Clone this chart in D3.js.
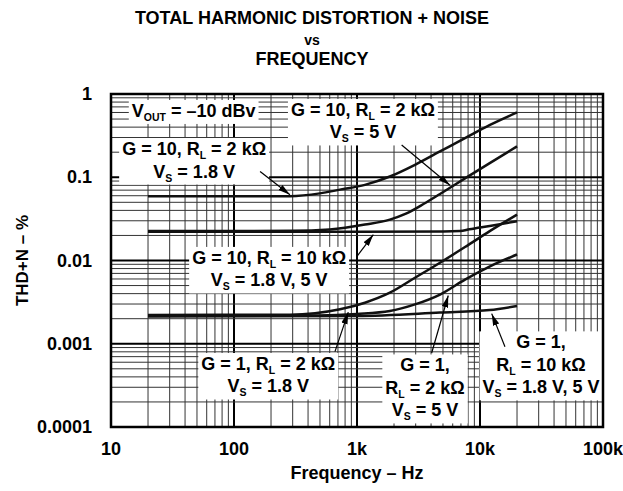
<!DOCTYPE html>
<html>
<head>
<meta charset="utf-8">
<script src="https://cdn.jsdelivr.net/npm/d3@7"></script>
<style>
  body { margin: 0; background: #fff; }
  svg text { font-family: "Liberation Sans", Arial, Helvetica, sans-serif; font-weight: bold; fill: #000; }
</style>
</head>
<body>
<div id="chart"></div>
<script>
const width = 623;
const height = 491;

// axis ticks
const freqTicks = [10, 100, 1000, 10000, 100000];
const freqTickLabels = ["10", "100", "1k", "10k", "100k"];
const thdTicks = [1, 0.1, 0.01, 0.001, 0.0001];
const thdTickLabels = ["1", "0.1", "0.01", "0.001", "0.0001"];

// G = 10, RL = 2k, Vs = 1.8 V
const freqG10R2kV18 = [20, 100, 285, 500, 728, 1160, 1850, 2960, 4730, 7550, 12060, 20000];
const thdG10R2kV18 = [0.059, 0.059, 0.0592, 0.064, 0.071, 0.081, 0.102, 0.141, 0.204, 0.295, 0.425, 0.6];
// G = 10, RL = 2k, Vs = 5 V
const freqG10R2kV5 = [20, 300, 600, 1160, 1850, 2500, 3500, 4730, 7550, 12000, 20000];
const thdG10R2kV5 = [0.0226, 0.0227, 0.0236, 0.027, 0.031, 0.0365, 0.048, 0.063, 0.097, 0.148, 0.235];
// G = 10, RL = 10k, Vs = 1.8 V, 5 V
const freqG10R10k = [20, 1000, 5000, 6900, 8200, 12000, 20000];
const thdG10R10k = [0.0222, 0.0222, 0.0223, 0.0226, 0.0237, 0.026, 0.0296];
// G = 1, RL = 2k, Vs = 1.8 V
const freqG1R2kV18 = [20, 285, 728, 1160, 1850, 2960, 4730, 7550, 12000, 20000];
const thdG1R2kV18 = [0.00222, 0.00223, 0.00259, 0.00311, 0.0041, 0.0062, 0.0094, 0.0145, 0.0225, 0.0356];
// G = 1, RL = 2k, Vs = 5 V
const freqG1R2kV5 = [20, 500, 1000, 1850, 2960, 4730, 7550, 12060, 20000];
const thdG1R2kV5 = [0.00218, 0.00219, 0.00228, 0.00247, 0.00297, 0.0039, 0.0059, 0.0085, 0.0118];
// G = 1, RL = 10k, Vs = 1.8 V, 5 V
const freqG1R10k = [20, 1000, 4730, 12000, 20000];
const thdG1R10k = [0.00213, 0.00216, 0.00237, 0.00254, 0.00284];

const seriesList = [
    { f: freqG10R2kV18, v: thdG10R2kV18 },
    { f: freqG10R2kV5, v: thdG10R2kV5 },
    { f: freqG10R10k, v: thdG10R10k },
    { f: freqG1R2kV18, v: thdG1R2kV18 },
    { f: freqG1R2kV5, v: thdG1R2kV5 },
    { f: freqG1R10k, v: thdG1R10k }
];

// annotations: text lines (_{..} = subscript), anchor in data units, arrow from/to in data units
const notes = [
    { lines: ["V_{OUT} = \u201310 dBv"], f: 47, v: 0.53 },
    { lines: ["G = 10, R_{L} = 2 k\u03A9", "V_{S} = 5 V"], f: 1117, v: 0.545,
      arrow: [[2307, 0.244], [5700, 0.08]] },
    { lines: ["G = 10, R_{L} = 2 k\u03A9", "V_{S} = 1.8 V"], f: 47.4, v: 0.185,
      arrow: [[163, 0.117], [285, 0.0615]] },
    { lines: ["G = 10, R_{L} = 10 k\u03A9", "V_{S} = 1.8 V, 5 V"], f: 193, v: 0.0091,
      arrow: [[995, 0.0111], [1358, 0.0205]] },
    { lines: ["G = 1, R_{L} = 2 k\u03A9", "V_{S} = 1.8 V"], f: 190, v: 0.000484,
      arrow: [[662, 0.000803], [849, 0.0024]] },
    { lines: ["G = 1,", "R_{L} = 2 k\u03A9", "V_{S} = 5 V"], f: 3573, v: 0.000465,
      arrow: [[4045, 0.000774], [5520, 0.0038]] },
    { lines: ["G = 1,", "R_{L} = 10 k\u03A9", "V_{S} = 1.8 V, 5 V"], f: 31300, v: 0.00088,
      arrow: [[15960, 0.000922], [12450, 0.0023]] }
];

document.addEventListener('DOMContentLoaded', () => {
    createChart();
});

function createChart(){
    const margin = { top: 94, right: 20, bottom: 64, left: 111 };
    const svg = d3.select('#chart')
        .append('svg')
        .attr('width', width)
        .attr('height', height);

    const usableArea = {
        top: margin.top,
        right: width - margin.right,
        bottom: height - margin.bottom,
        left: margin.left
    };

    const xScale = d3.scaleLog()
        .domain([10, 100000])
        .range([usableArea.left, usableArea.right]);
    const yScale = d3.scaleLog()
        .domain([0.0001, 1])
        .range([usableArea.bottom, usableArea.top]);

    // title
    const title = ["TOTAL HARMONIC DISTORTION + NOISE", "vs", "FREQUENCY"];
    svg.append('g').selectAll('text')
        .data(title)
        .join('text')
        .attr('x', 312)
        .attr('y', (d, i) => 24 + i * 20.5)
        .attr('text-anchor', 'middle')
        .style('font-size', (d, i) => i === 1 ? '14px' : '18px')
        .text(d => d);

    // grid
    const grid = svg.append('g');
    const isMajor = d => Math.abs(Math.log10(d) - Math.round(Math.log10(d))) < 1e-6;
    grid.selectAll('line.vx')
        .data(xScale.ticks())
        .join('line')
        .attr('x1', d => xScale(d)).attr('x2', d => xScale(d))
        .attr('y1', usableArea.top).attr('y2', usableArea.bottom)
        .style('stroke', d => isMajor(d) ? '#000' : '#333')
        .style('stroke-width', d => isMajor(d) ? 2 : 1);
    grid.selectAll('line.hy')
        .data(yScale.ticks())
        .join('line')
        .attr('y1', d => yScale(d)).attr('y2', d => yScale(d))
        .attr('x1', usableArea.left).attr('x2', usableArea.right)
        .style('stroke', d => isMajor(d) ? '#000' : '#333')
        .style('stroke-width', d => isMajor(d) ? 2 : 1);

    // label boxes (white, hiding grid) with text on top
    const noteG = svg.append('g');
    const lineGap = 22.5;
    const noteGroups = noteG.selectAll('g')
        .data(notes)
        .join('g');
    noteGroups.append('rect').style('fill', '#fff');
    noteGroups.each(function(d){
        const g = d3.select(this);
        const t = g.append('text')
            .attr('text-anchor', 'middle')
            .style('font-size', '18px');
        d.lines.forEach((ln, i) => {
            const line = t.append('tspan')
                .attr('x', xScale(d.f))
                .attr('y', yScale(d.v) + i * lineGap);
            const parts = ln.split(/(_\{[^}]*\})/).filter(p => p);
            let shifted = false;
            parts.forEach(p => {
                if (p.startsWith('_{')) {
                    line.append('tspan')
                        .attr('dy', 4)
                        .style('font-size', '10.5px')
                        .text(p.slice(2, -1));
                    shifted = true;
                } else {
                    const s = line.append('tspan').text(p);
                    if (shifted) { s.attr('dy', -4); shifted = false; }
                }
            });
        });
        const bb = t.node().getBBox();
        g.select('rect')
            .attr('x', bb.x - 3)
            .attr('y', bb.y - 1)
            .attr('width', bb.width + 6)
            .attr('height', bb.height + 2);
    });

    // curves
    const line = d3.line()
        .x(d => xScale(d[0]))
        .y(d => yScale(d[1]))
        .curve(d3.curveMonotoneX);
    svg.append('g').selectAll('path')
        .data(seriesList)
        .join('path')
        .attr('d', s => line(s.f.map((f, i) => [f, s.v[i]])))
        .style('fill', 'none')
        .style('stroke', '#111')
        .style('stroke-width', 2.5);

    // arrows
    svg.append('defs').append('marker')
        .attr('id', 'head')
        .attr('viewBox', '0 0 12 10')
        .attr('refX', 12).attr('refY', 5)
        .attr('markerWidth', 12).attr('markerHeight', 10)
        .attr('markerUnits', 'userSpaceOnUse')
        .attr('orient', 'auto')
        .append('path')
        .attr('d', 'M0,1.8 L12,5 L0,8.2 Z')
        .style('fill', '#000');
    svg.append('g').selectAll('line')
        .data(notes.filter(d => d.arrow))
        .join('line')
        .attr('x1', d => xScale(d.arrow[0][0]))
        .attr('y1', d => yScale(d.arrow[0][1]))
        .attr('x2', d => xScale(d.arrow[1][0]))
        .attr('y2', d => yScale(d.arrow[1][1]))
        .style('stroke', '#000')
        .style('stroke-width', 1.2)
        .attr('marker-end', 'url(#head)');

    // frame
    svg.append('rect')
        .attr('x', usableArea.left)
        .attr('y', usableArea.top)
        .attr('width', usableArea.right - usableArea.left)
        .attr('height', usableArea.bottom - usableArea.top)
        .style('fill', 'none')
        .style('stroke', '#000')
        .style('stroke-width', 2.5);

    // tick labels
    svg.append('g').selectAll('text')
        .data(freqTicks)
        .join('text')
        .attr('x', d => xScale(d))
        .attr('y', usableArea.bottom + 28)
        .attr('text-anchor', 'middle')
        .style('font-size', '18px')
        .text((d, i) => freqTickLabels[i]);
    svg.append('g').selectAll('text')
        .data(thdTicks)
        .join('text')
        .attr('x', usableArea.left - 19)
        .attr('y', d => yScale(d) + 6)
        .attr('text-anchor', 'end')
        .style('font-size', '18px')
        .text((d, i) => thdTickLabels[i]);

    // axis titles
    svg.append('text')
        .attr('x', (usableArea.left + usableArea.right) / 2)
        .attr('y', height - 12)
        .attr('text-anchor', 'middle')
        .style('font-size', '18px')
        .text('Frequency \u2013 Hz');
    svg.append('text')
        .attr('transform', 'rotate(-90)')
        .attr('x', -(usableArea.top + usableArea.bottom) / 2)
        .attr('y', 28)
        .attr('text-anchor', 'middle')
        .style('font-size', '17px')
        .text('THD+N \u2013 %');
}
</script>
</body>
</html>
